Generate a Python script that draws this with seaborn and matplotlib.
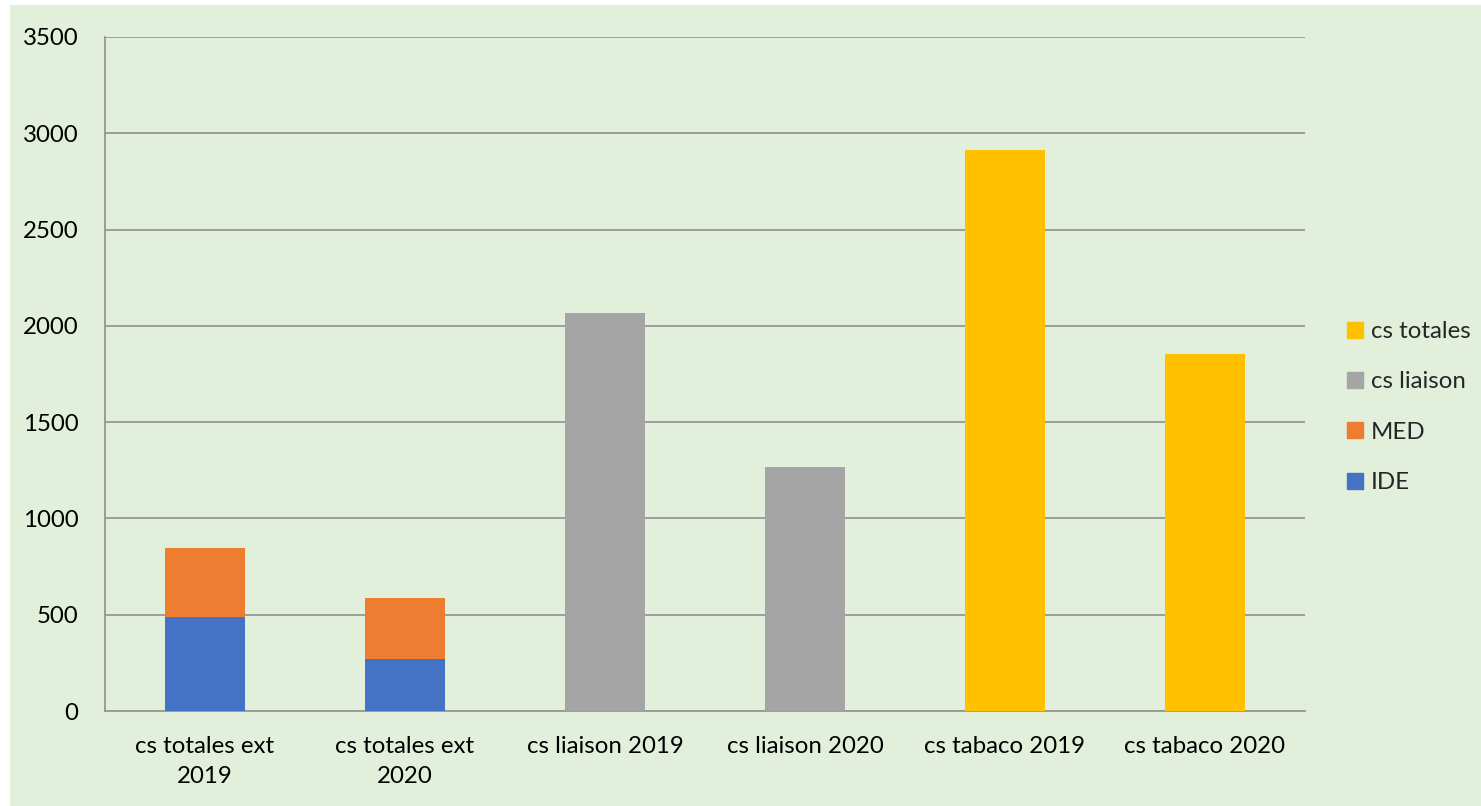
import numpy as np
import pandas as pd
import matplotlib
matplotlib.use("Agg")
import matplotlib.pyplot as plt
from matplotlib.patches import Rectangle
from matplotlib.lines import Line2D
import seaborn as sns

categories = ["cs totales ext\n2019", "cs totales ext\n2020", "cs liaison 2019",
              "cs liaison 2020", "cs tabaco 2019", "cs tabaco 2020"]
ide = [490, 271, np.nan, np.nan, np.nan, np.nan]
med = [357, 315, np.nan, np.nan, np.nan, np.nan]
cs_liaison = [np.nan, np.nan, 2065, 1266, np.nan, np.nan]
cs_totales = [np.nan, np.nan, np.nan, np.nan, 2914, 1852]
yticks = [0, 500, 1000, 1500, 2000, 2500, 3000, 3500]

C_IDE = "#4472C4"
C_MED = "#ED7D31"
C_LIA = "#A5A5A5"
C_TOT = "#FFC000"
BG = "#E2EFDA"
GRID = "#979797"
FS = 17.3

sns.set_style("white")
plt.rcParams["font.family"] = ["Lato", "DejaVu Sans"]

fig = plt.figure(figsize=(14.81, 8.06), dpi=100)
fig.patch.set_facecolor("white")
fig.patches.append(Rectangle((10 / 1481, 0), 1, 1 - 5 / 806, transform=fig.transFigure,
                             facecolor=BG, edgecolor="none", zorder=-10))
ax = fig.add_axes([105 / 1481, 95 / 806, 1200 / 1481, 674 / 806])
ax.set_facecolor(BG)
ax.patch.set_alpha(0)

med_total = [a + b for a, b in zip(ide, med)]
common = dict(x=categories, order=categories, width=0.4, ax=ax, saturation=1, zorder=3,
              linewidth=0)
sns.barplot(y=med_total, color=C_MED, **common)
sns.barplot(y=ide, color=C_IDE, **common)
sns.barplot(y=cs_liaison, color=C_LIA, **common)
sns.barplot(y=cs_totales, color=C_TOT, **common)

ax.set_xlim(-0.5, 5.5)
ax.set_ylim(0, 3500)
ax.set_yticks(yticks)
ax.set_yticklabels([str(v) for v in yticks])
ax.yaxis.grid(True, color=GRID, linewidth=1.3, zorder=0)
ax.set_axisbelow(True)
ax.set_xlabel("")
ax.set_ylabel("")
for s in ["top", "right"]:
    ax.spines[s].set_visible(False)
for s in ["left", "bottom"]:
    ax.spines[s].set_color(GRID)
    ax.spines[s].set_linewidth(1.3)
ax.set_xticks(np.arange(-0.5, 6, 1), minor=True)
ax.tick_params(axis="x", which="major", length=0, pad=18, labelsize=FS, colors="black")
ax.tick_params(axis="x", which="minor", length=7, width=1.3, color=GRID)
ax.tick_params(axis="y", length=7, width=1.3, color=GRID, pad=12, labelsize=FS,
               labelcolor="black")
for t in ax.get_xticklabels():
    t.set_linespacing(1.55)

handles = [Line2D([], [], marker="s", linestyle="none", markersize=11,
                  markerfacecolor=c, markeredgecolor=c)
           for c in [C_TOT, C_LIA, C_MED, C_IDE]]
labels = ["cs totales", "cs liaison", "MED", "IDE"]
leg = fig.legend(handles, labels, loc="center left", bbox_to_anchor=(1319 / 1481, 1 - 407 / 806),
                 frameon=False, fontsize=FS, handletextpad=0.05, labelspacing=1.22,
                 handlelength=1.2)

fig.savefig("out.png", dpi=100, facecolor=fig.get_facecolor())
